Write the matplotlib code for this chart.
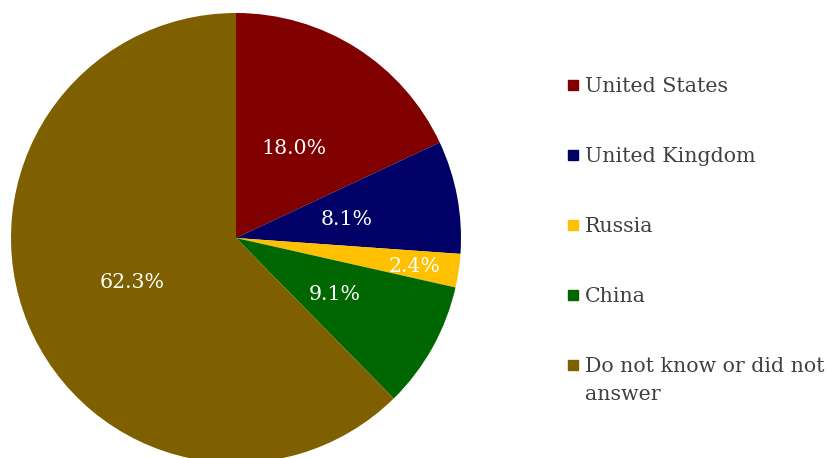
import matplotlib
matplotlib.use("Agg")
import matplotlib.pyplot as plt
from matplotlib.patches import Rectangle
import numpy as np

categories = ["United States", "United Kingdom", "Russia", "China",
              "Do not know or did not\nanswer"]
values = [18.0, 8.1, 2.4, 9.1, 62.3]
colors = ["#800000", "#000066", "#FFC000", "#006600", "#7F6000"]
label_dist = [0.48, 0.5, 0.8, 0.5, 0.5]

W, H = 832, 458
fig = plt.figure(figsize=(W / 100, H / 100), dpi=100)
cx, cy, r = 236, 238, 225
ax = fig.add_axes([(cx - r) / W, (H - cy - r) / H, 2 * r / W, 2 * r / H])
wedges, _ = ax.pie(values, colors=colors, startangle=90, counterclock=False,
                   radius=1.0, wedgeprops=dict(linewidth=0))
ax.set_xlim(-1, 1)
ax.set_ylim(-1, 1)
ax.set_aspect("equal")
ax.axis("off")

font = "DejaVu Serif"
fs = 14.8
for w, v, d in zip(wedges, values, label_dist):
    ang = np.deg2rad((w.theta1 + w.theta2) / 2)
    ax.text(d * np.cos(ang), d * np.sin(ang), f"{v:.1f}%", ha="center",
            va="center_baseline", color="white", fontsize=fs, family=font)

ys = [85, 155, 225, 295, 365]
for cat, col, y in zip(categories, colors, ys):
    fig.patches.append(Rectangle((568 / W, (H - y - 5) / H), 10 / W, 10 / H,
                                 transform=fig.transFigure, color=col,
                                 figure=fig))
    for i, line in enumerate(cat.split("\n")):
        fig.text(585 / W, (H - y - 28 * i) / H, line, ha="left",
                 va="center_baseline", color="#404040", fontsize=fs,
                 family=font)

fig.savefig("out.png", dpi=100)
